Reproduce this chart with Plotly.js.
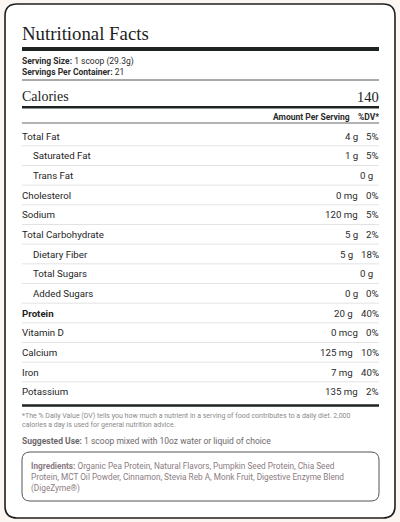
<!DOCTYPE html>
<html><head><meta charset="utf-8">
<script src="https://cdn.plot.ly/plotly-3.0.1.min.js"></script>
<style>html,body{margin:0;padding:0;background:#fbf6f1;}#chart{width:400px;height:522px;}</style>
</head><body><div id="chart"></div>
<script>
// ---- data ----
var titleText = "Nutritional Facts";
var servingSize = "1 scoop (29.3g)";
var servingsPerContainer = "21";
var calories = "140";
var nutrients = ["Total Fat","Saturated Fat","Trans Fat","Cholesterol","Sodium","Total Carbohydrate","Dietary Fiber","Total Sugars","Added Sugars","Protein","Vitamin D","Calcium","Iron","Potassium"];
var amounts = ["4 g","1 g","0 g","0 mg","120 mg","5 g","5 g","0 g","0 g","20 g","0 mcg","125 mg","7 mg","135 mg"];
var dailyValues = ["5%","5%","","0%","5%","2%","18%","","0%","40%","0%","10%","40%","2%"];
var indented = [false,true,true,false,false,false,true,true,true,false,false,false,false,false];
var boldRow = [false,false,false,false,false,false,false,false,false,true,false,false,false,false];
var footnoteLines = ["*The % Daily Value (DV) tells you how much a nutrient in a serving of food contributes to a daily diet. 2,000","calories a day is used for general nutrition advice."];
var suggestedUse = "1 scoop mixed with 10oz water or liquid of choice";
var ingredientLines = ["<b>Ingredients:</b> Organic Pea Protein, Natural Flavors, Pumpkin Seed Protein, Chia Seed","Protein, MCT Oil Powder, Cinnamon, Stevia Reb A, Monk Fruit, Digestive Enzyme Blend","(DigeZyme\u00ae)"];

// ---- layout helpers ----
var SANS = "Roboto, 'DejaVu Sans', sans-serif";
var SERIF = "'Liberation Serif', 'DejaVu Serif', serif";
var DARK = "#1c2322";
var TEXT = "#2b2b2b";
var L = 22, R = 379;
var rowY0 = 136, rowStep = 19.67;
var rowFont = 9.7;

var canvas = document.createElement("canvas");
var ctx = canvas.getContext("2d");
function textWidth(t, size, weight){ ctx.font = (weight||400) + " " + size + "px Roboto"; return ctx.measureText(t).width; }

function roundRect(x0,y0,x1,y1,r){
  return "M"+(x0+r)+","+y0+" L"+(x1-r)+","+y0+" Q"+x1+","+y0+" "+x1+","+(y0+r)+
    " L"+x1+","+(y1-r)+" Q"+x1+","+y1+" "+(x1-r)+","+y1+
    " L"+(x0+r)+","+y1+" Q"+x0+","+y1+" "+x0+","+(y1-r)+
    " L"+x0+","+(y0+r)+" Q"+x0+","+y0+" "+(x0+r)+","+y0+" Z";
}

var shapes = [];
var ann = [];
function txt(x,y,t,opt){
  opt = opt||{};
  ann.push({x:x,y:y,xref:"x",yref:"y",text:t,showarrow:false,
    xanchor:opt.anchor||"left",yanchor:"middle",align:opt.anchor||"left",
    borderpad:0,borderwidth:0,
    font:{family:opt.family||SANS,size:opt.size||rowFont,color:opt.color||TEXT,weight:opt.weight||400}});
}
function bar(y0,y1){ shapes.push({type:"rect",xref:"x",yref:"y",x0:L,x1:R,y0:y0,y1:y1,fillcolor:DARK,line:{width:0}}); }
function hline(y,color,w){ shapes.push({type:"line",xref:"x",yref:"y",x0:L,x1:R,y0:y,y1:y,line:{color:color,width:w||1}}); }

// card
shapes.push({type:"path",xref:"x",yref:"y",path:roundRect(5,4,395,518,12),fillcolor:"#ffffff",line:{color:"#1f1f1f",width:1.6},layer:"below"});

// header
txt(L,33,titleText,{family:SERIF,size:18.8,color:"#1c1c1c"});
bar(47,51);
txt(L,61,"<b>Serving Size:</b> "+servingSize,{size:8.5});
txt(L,71.5,"<b>Servings Per Container:</b> "+servingsPerContainer,{size:8.5});
hline(80,"#555",1);
txt(L,96.5,"Calories",{family:SERIF,size:14,color:"#1c1c1c"});
txt(R,96.5,calories,{family:SERIF,size:14.5,color:"#1c1c1c",anchor:"right"});
bar(106,108.6);
txt(R,116.5,"%DV*",{size:8.5,weight:700,anchor:"right"});
txt(R-textWidth("%DV*",8.5,700)-8,116.5,"Amount Per Serving",{size:8.5,weight:700,anchor:"right"});
hline(123,"#666",1);

// rows
for (var i=0;i<nutrients.length;i++){
  var y = rowY0 + i*rowStep;
  var lx = indented[i] ? 33 : L;
  txt(lx,y,nutrients[i],{weight:boldRow[i]?700:400,color:"#1e1e1e"});
  var ax;
  if (dailyValues[i]) {
    txt(R,y,dailyValues[i],{anchor:"right"});
    ax = R - textWidth(dailyValues[i],rowFont,400) - 8.5;
  } else {
    ax = 373;
  }
  txt(ax,y,amounts[i],{anchor:"right"});
  if (i < nutrients.length-1) hline(y+9.8,"#e3e3e3",1);
}
bar(404.3,406.8);

// footer
txt(L,416,footnoteLines[0],{size:7,color:"#8a8a8a"});
txt(L,424.5,footnoteLines[1],{size:7,color:"#8a8a8a"});
txt(L,441,"<b>Suggested Use:</b> "+suggestedUse,{size:8.5,color:"#6d696b"});
shapes.push({type:"path",xref:"x",yref:"y",path:roundRect(L,452,R,501,8),fillcolor:"rgba(0,0,0,0)",line:{color:"#555",width:1}});
for (var k=0;k<ingredientLines.length;k++){
  txt(31,466+k*11,ingredientLines[k],{size:8.25,color:"#8b7b82"});
}

var layout = {
  width:400,height:522,margin:{l:0,r:0,t:0,b:0},
  paper_bgcolor:"#fbf6f1",plot_bgcolor:"rgba(0,0,0,0)",
  xaxis:{range:[0,400],visible:false,fixedrange:true},
  yaxis:{range:[522,0],visible:false,fixedrange:true},
  shapes:shapes,annotations:ann,showlegend:false
};
Plotly.newPlot("chart",[{x:[],y:[],type:"scatter"}],layout,{staticPlot:true,displayModeBar:false});
</script></body></html>
